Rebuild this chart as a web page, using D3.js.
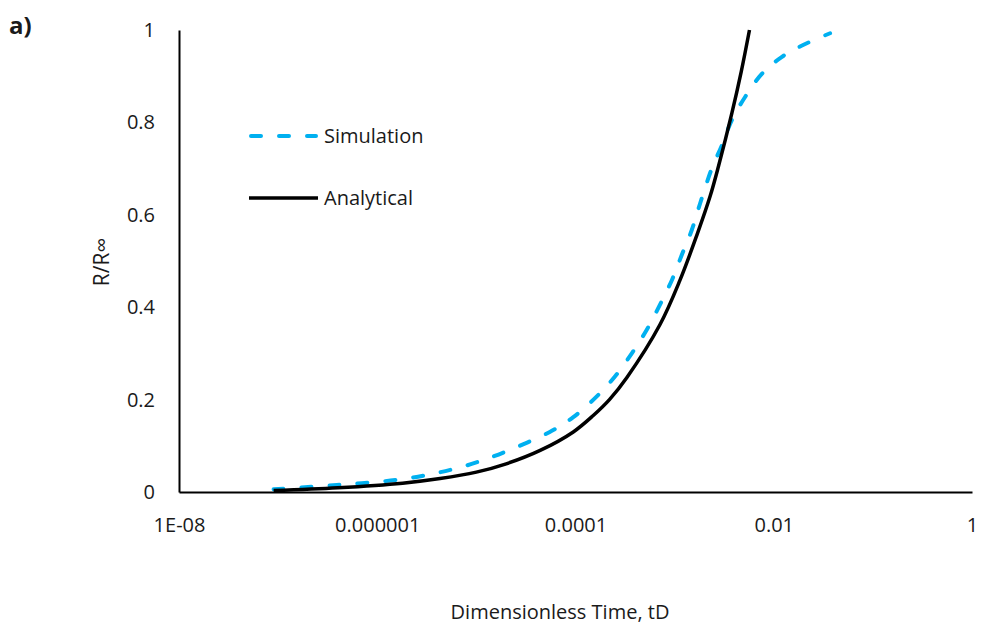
<!DOCTYPE html>
<html>
<head>
<meta charset="utf-8">
<script src="https://cdn.jsdelivr.net/npm/d3@7"></script>
<style>
  body { margin: 0; background: #fff; }
  text { font-family: "Open Sans", sans-serif; fill: #1a1a1a; }
</style>
</head>
<body>
<div id="chart"></div>
<script>
// values
var xTicks = [1e-8, 1e-6, 1e-4, 1e-2, 1];
var xTickLabels = ["1E-08", "0.000001", "0.0001", "0.01", "1"];
var yTicks = [0, 0.2, 0.4, 0.6, 0.8, 1];
var yTickLabels = ["0", "0.2", "0.4", "0.6", "0.8", "1"];

var simTime = [9e-8, 3.9e-7, 1.8e-6, 5.5e-6, 1.0e-5, 2.0e-5, 5.5e-5, 9.5e-5, 1.64e-4, 2.5e-4, 3.7e-4, 5.2e-4, 7.1e-4, 9.4e-4, 1.18e-3, 1.49e-3, 1.81e-3, 2.37e-3, 2.99e-3, 3.78e-3, 5.14e-3, 7.58e-3, 1.21e-2, 2.0e-2, 3.7e-2];
var simValue = [0.006, 0.015, 0.028, 0.048, 0.064, 0.088, 0.13, 0.162, 0.207, 0.25, 0.30, 0.35, 0.405, 0.459, 0.513, 0.567, 0.625, 0.70, 0.75, 0.805, 0.855, 0.905, 0.942, 0.968, 0.993];

var anaTime = [9e-8, 4e-7, 1.8e-6, 4.3e-6, 1e-5, 2e-5, 4.4e-5, 9.5e-5, 1.5e-4, 2.2e-4, 3.3e-4, 7.1e-4, 1.13e-3, 1.67e-3, 2.28e-3, 2.77e-3, 3.78e-3, 4.7e-3, 5.69e-3];
var anaValue = [0.003, 0.009, 0.019, 0.029, 0.043, 0.061, 0.090, 0.130, 0.165, 0.200, 0.248, 0.362, 0.458, 0.555, 0.64, 0.705, 0.82, 0.91, 1.0];

var seriesNames = ["Simulation", "Analytical"];

var width = 981, height = 633;
var plotLeft = 179, plotRight = 972, plotTop = 30, plotBottom = 492;

var svg = d3.select("#chart").append("svg")
  .attr("width", width)
  .attr("height", height);

var x = d3.scaleLog().domain([1e-8, 1]).range([plotLeft, plotRight]);
var y = d3.scaleLinear().domain([0, 1]).range([plotBottom, plotTop]);

// axes
var xAxis = d3.axisBottom(x).tickValues(xTicks)
  .tickFormat(function(d, i) { return xTickLabels[i]; })
  .tickSize(0).tickPadding(26);
var gx = svg.append("g").attr("transform", "translate(0," + plotBottom + ")").call(xAxis);
gx.select(".domain").attr("stroke", "#000").attr("stroke-width", 2);
gx.selectAll("text").attr("font-size", 20).attr("font-family", "Open Sans").attr("fill", "#1a1a1a");

var yAxis = d3.axisLeft(y).tickValues(yTicks)
  .tickFormat(function(d, i) { return yTickLabels[i]; })
  .tickSize(0).tickPadding(24);
var gy = svg.append("g").attr("transform", "translate(" + plotLeft + ",0)").call(yAxis);
gy.select(".domain").attr("stroke", "#000").attr("stroke-width", 2);
gy.selectAll("text").attr("font-size", 20).attr("font-family", "Open Sans").attr("fill", "#1a1a1a");

// lines
var line = d3.line()
  .x(function(d) { return x(d[0]); })
  .y(function(d) { return y(d[1]); })
  .curve(d3.curveCatmullRom.alpha(0.5));

var simData = simTime.map(function(t, i) { return [t, simValue[i]]; });
var anaData = anaTime.map(function(t, i) { return [t, anaValue[i]]; });

svg.append("path")
  .attr("d", line(simData))
  .attr("fill", "none")
  .attr("stroke", "#00b0f0")
  .attr("stroke-width", 4)
  .attr("stroke-linecap", "round")
  .attr("stroke-dasharray", "10,18");

svg.append("path")
  .attr("d", line(anaData))
  .attr("fill", "none")
  .attr("stroke", "#000")
  .attr("stroke-width", 3.5);

// legend
var legend = svg.append("g");
legend.append("line")
  .attr("x1", 251).attr("x2", 316).attr("y1", 136).attr("y2", 136)
  .attr("stroke", "#00b0f0").attr("stroke-width", 4)
  .attr("stroke-linecap", "round").attr("stroke-dasharray", "10,18");
legend.append("text").attr("x", 324).attr("y", 143).attr("font-size", 20).text(seriesNames[0]);
legend.append("line")
  .attr("x1", 249).attr("x2", 318).attr("y1", 198).attr("y2", 198)
  .attr("stroke", "#000").attr("stroke-width", 3.5);
legend.append("text").attr("x", 324).attr("y", 205).attr("font-size", 20).text(seriesNames[1]);

// titles
svg.append("text")
  .attr("x", 560).attr("y", 619)
  .attr("text-anchor", "middle")
  .attr("font-size", 20)
  .text("Dimensionless Time, tD");

svg.append("text")
  .attr("transform", "translate(109,262) rotate(-90)")
  .attr("text-anchor", "middle")
  .attr("font-size", 21)
  .text("R/R∞");

svg.append("text")
  .attr("x", 9).attr("y", 34)
  .attr("font-size", 24)
  .attr("font-weight", "bold")
  .text("a)");
</script>
</body>
</html>
